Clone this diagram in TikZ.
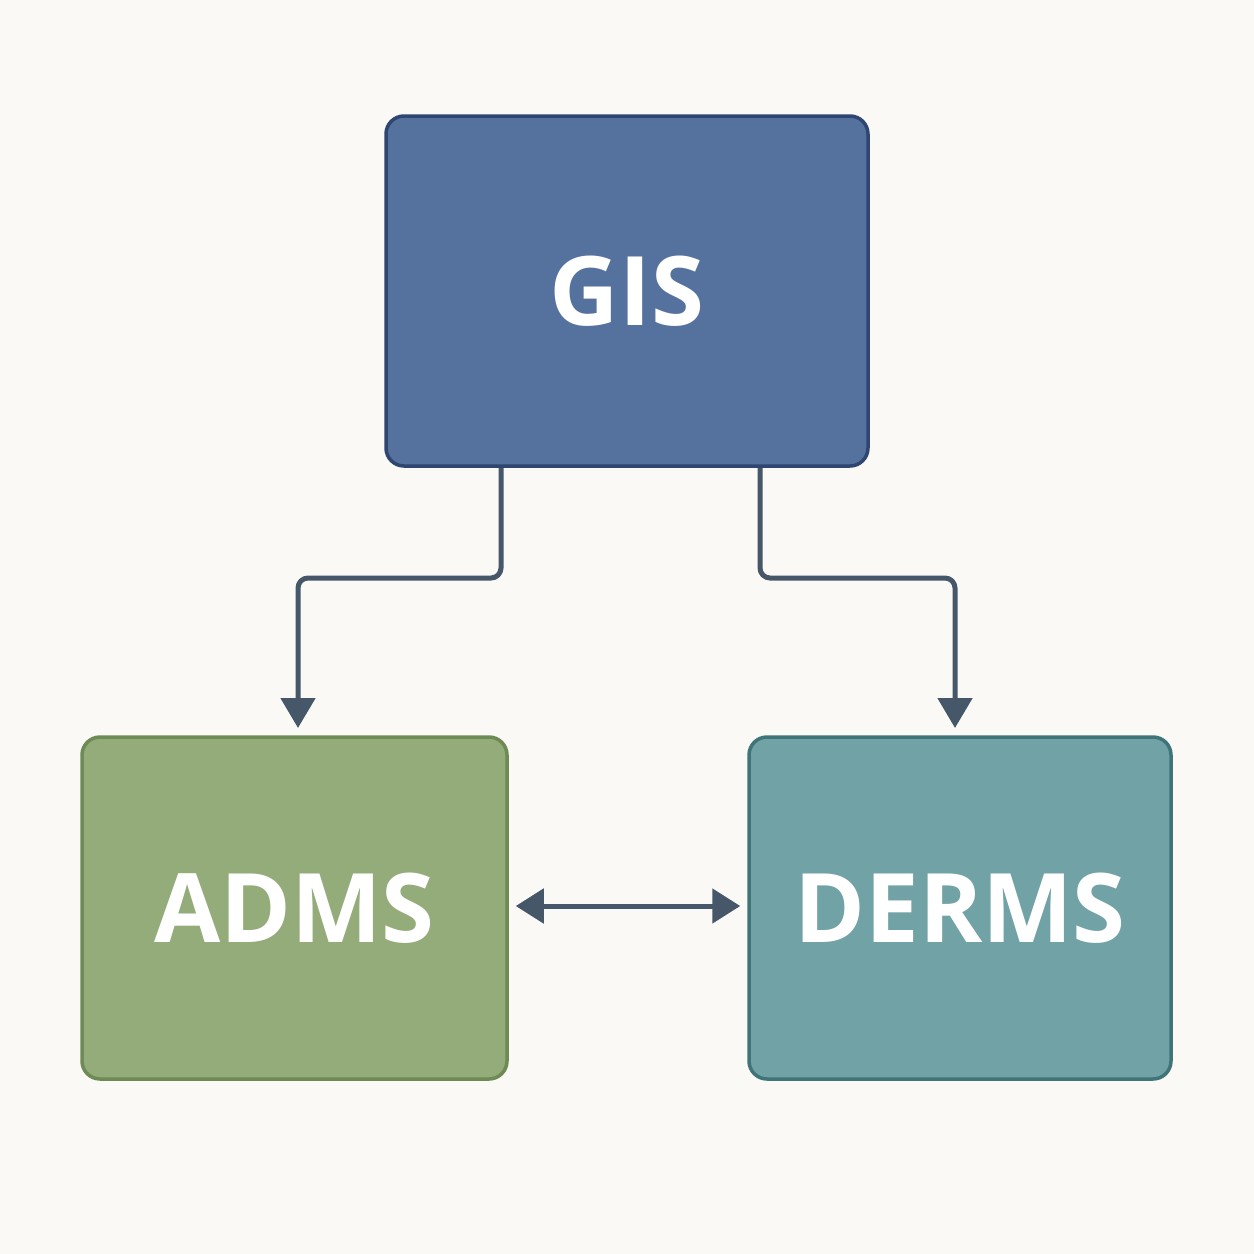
\documentclass[tikz,border=0pt]{standalone}
\usepackage{fontspec}
\setmainfont{Open Sans}
\usetikzlibrary{arrows.meta}
\definecolor{bg}{HTML}{FAF9F6}
\definecolor{gisf}{HTML}{55729F}
\definecolor{gisb}{HTML}{2E4670}
\definecolor{admf}{HTML}{94AB7A}
\definecolor{admb}{HTML}{6E8A55}
\definecolor{derf}{HTML}{70A2A6}
\definecolor{derb}{HTML}{3F7478}
\definecolor{ln}{HTML}{465769}
\begin{document}
\begin{tikzpicture}[x=1pt,y=-1pt,
  box/.style={draw, line width=3.5pt, rounded corners=18pt, inner sep=0pt, text=white, font=\fontsize{96}{96}\selectfont\bfseries},
  conn/.style={draw=ln, line width=5pt, rounded corners=10pt, -{Triangle[length=30pt,width=34pt]}},
  dconn/.style={draw=ln, line width=5pt, {Triangle[length=28pt,width=34pt]}-{Triangle[length=28pt,width=34pt]}}]
\fill[bg] (0,0) rectangle (1254,1254);
\useasboundingbox (0,0) rectangle (1254,1254);
\node[box, fill=gisf, draw=gisb, minimum width=482pt, minimum height=350pt] (gis) at (627,291) {GIS};
\node[box, fill=admf, draw=admb, minimum width=425pt, minimum height=342pt] (adms) at (294.5,908) {ADMS};
\node[box, fill=derf, draw=derb, minimum width=422pt, minimum height=342pt] (derms) at (960,908) {DERMS};
\coordinate (t1) at (298,728);
\coordinate (t2) at (955,728);
\draw[conn] (gis.south -| 501,0) -- (501,578) -- (298,578) -- (t1);
\draw[conn] (gis.south -| 760,0) -- (760,578) -- (955,578) -- (t2);
\draw[dconn] (adms.east |- 0,906) ++(7,0) coordinate (d1) -- ([xshift=-7pt]derms.west |- 0,906);
\end{tikzpicture}
\end{document}
